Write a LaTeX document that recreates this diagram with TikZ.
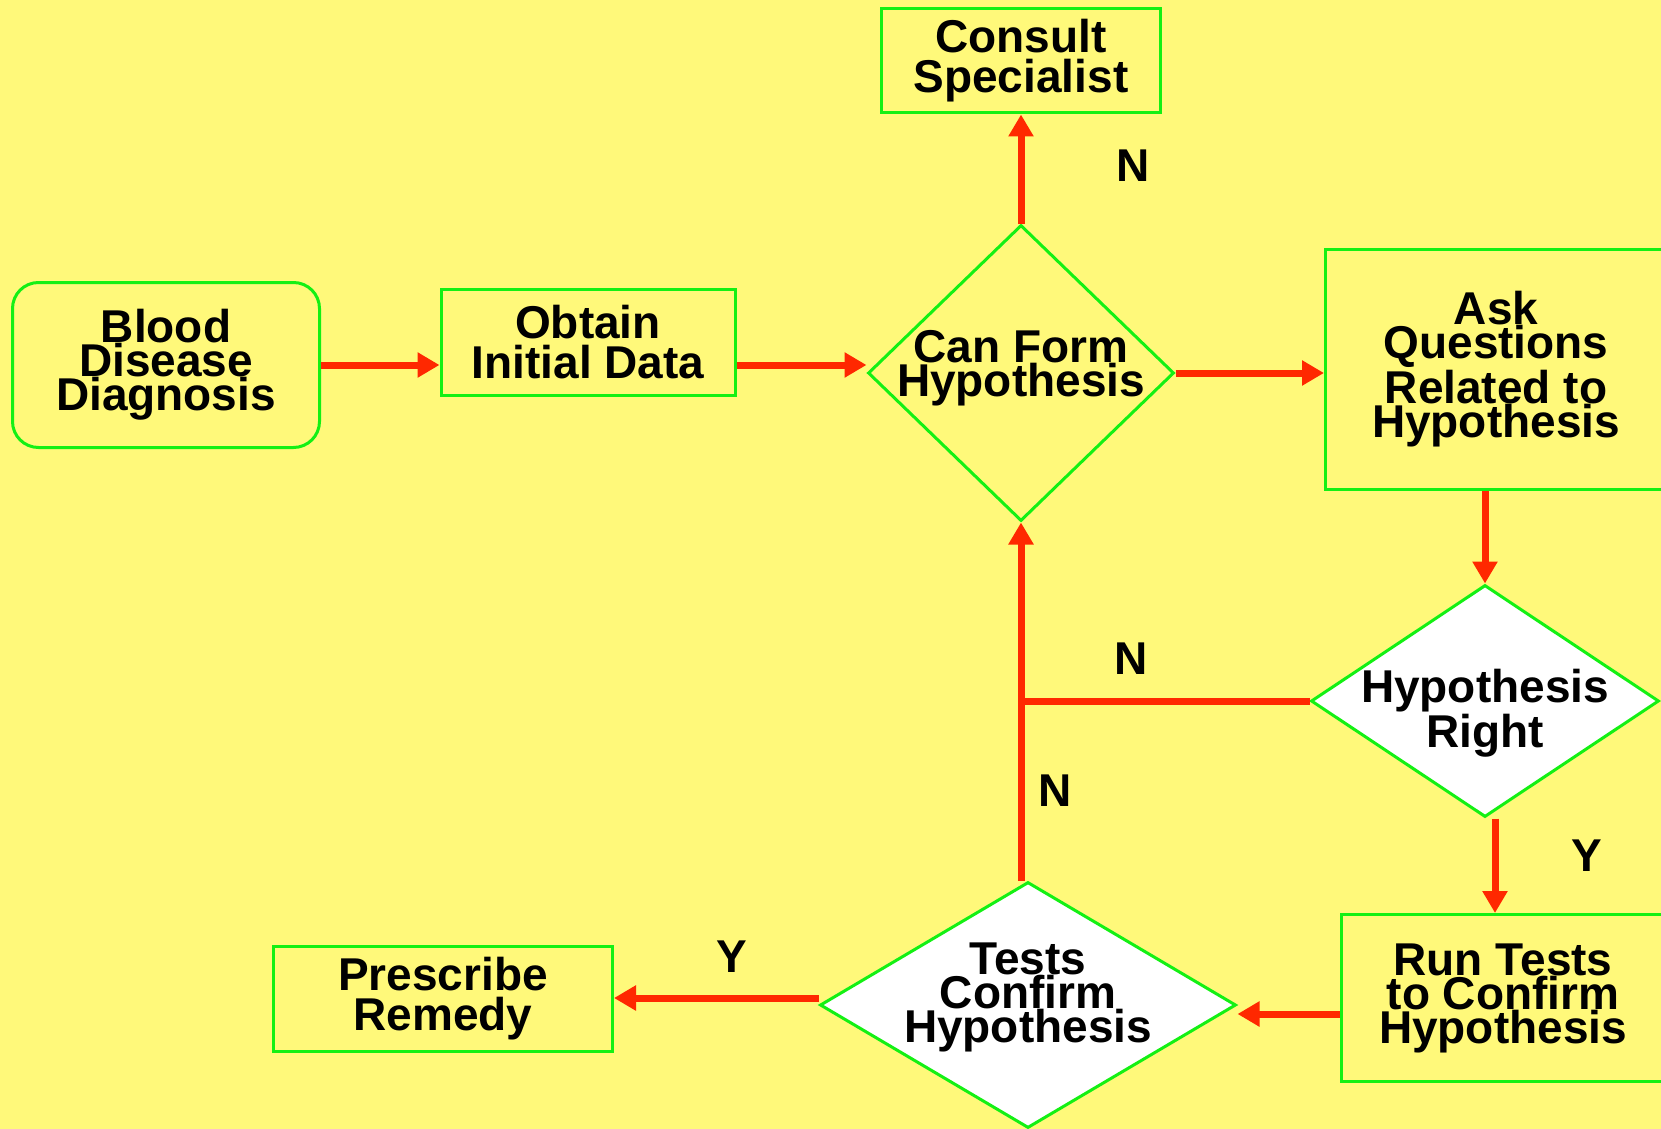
\documentclass[tikz,border=0pt]{standalone}
\usepackage{fontspec}
\setmainfont{Liberation Sans}
\usetikzlibrary{shapes.geometric,arrows.meta}

\definecolor{bgyellow}{RGB}{255,249,122}
\definecolor{boxgreen}{RGB}{20,240,20}
\definecolor{arrowred}{RGB}{255,40,0}

\tikzset{
    box/.style={draw=boxgreen, line width=1.5pt, fill=bgyellow, inner sep=0pt,
        align=center, font=\bfseries\fontsize{23}{20}\selectfont},
    tightbox/.style={box, font=\bfseries\fontsize{23}{17}\selectfont},
    decision/.style={diamond, draw=boxgreen, line width=1.5pt, fill=white, inner sep=0pt},
    dtext/.style={align=center, inner sep=0pt, font=\bfseries\fontsize{23}{17}\selectfont},
    flow/.style={draw=arrowred, line width=3.5pt, -{Triangle[length=11pt,width=12pt]}},
    lbl/.style={inner sep=0pt, font=\bfseries\fontsize{23}{23}\selectfont}
}

\begin{document}
\begin{tikzpicture}[x=0.5pt, y=-0.5pt]
    \fill[bgyellow] (0,0) rectangle (1661,1129);
    \useasboundingbox (0,0) rectangle (1661,1129);

    % boxes
    \node[tightbox, rounded corners=13pt, minimum width=153.5pt, minimum height=82.5pt] (blood) at (166,365) {Blood\\Disease\\Diagnosis};
    \node[box, minimum width=147pt, minimum height=53pt]   (obtain)    at (588,342)    {Obtain\\Initial Data};
    \node[box, minimum width=139.5pt, minimum height=52pt] (consult)   at (1021,61)    {Consult\\Specialist};
    \node[tightbox, minimum width=170.5pt, minimum height=120pt] (ask) at (1496,369) {Ask\\Questions\\Related to\\Hypothesis};
    \node[tightbox, minimum width=162pt, minimum height=83.5pt] (run)  at (1503,998)   {Run Tests\\to Confirm\\Hypothesis};
    \node[box, minimum width=169.5pt, minimum height=52.5pt] (prescribe) at (443,999) {Prescribe\\Remedy};

    % decisions
    \node[decision, fill=bgyellow, minimum width=153pt, minimum height=148pt] (canform) at (1021,373) {};
    \node[decision, minimum width=174pt, minimum height=116pt] (right) at (1485,701) {};
    \node[decision, minimum width=208pt, minimum height=123pt] (tests) at (1028,1005) {};
    \node[dtext] (canformtxt) at ([yshift=2.5pt]canform.center) {Can Form\\Hypothesis};
    \node[dtext, font=\bfseries\fontsize{23}{19.5}\selectfont] (righttxt) at ([yshift=-6pt]right.center) {Hypothesis\\Right};
    \node[dtext] (teststxt) at ([yshift=4pt]tests.center) {Tests\\Confirm\\Hypothesis};

    \coordinate (join) at (canform.south |- right.west);

    % connectors
    \draw[flow] (blood.east) -- (blood.east -| obtain.west);
    \draw[flow] (blood.east -| obtain.east) -- (blood.east -| canform.west);
    \draw[flow] (canform.east) -- (canform.east -| ask.west);
    \draw[flow] (canform.north) -- (consult.south);
    \draw[flow] (ask.south -| right.north) -- (right.north);
    \draw[flow] ([xshift=5pt]right.south) -- ([xshift=5pt]right.south |- run.north);
    \draw[flow] ([yshift=-8pt]run.west) -- ([yshift=-8pt]run.west -| tests.east);
    \draw[flow] ([yshift=3.5pt]tests.west) -- ([yshift=3.5pt]tests.west -| prescribe.east);
    \draw[flow] (tests.north -| canform.south) -- (canform.south);
    \draw[draw=arrowred, line width=3.5pt] (right.west) -- (join);

    % labels
    \node[lbl] (n1) at (1133,166) {N};
    \node[lbl] (n2) at (1131,659) {N};
    \node[lbl] (n3) at (1055,791) {N};
    \node[lbl] (y1) at (1587,856) {Y};
    \node[lbl] (y2) at (732,957)  {Y};
\end{tikzpicture}
\end{document}
